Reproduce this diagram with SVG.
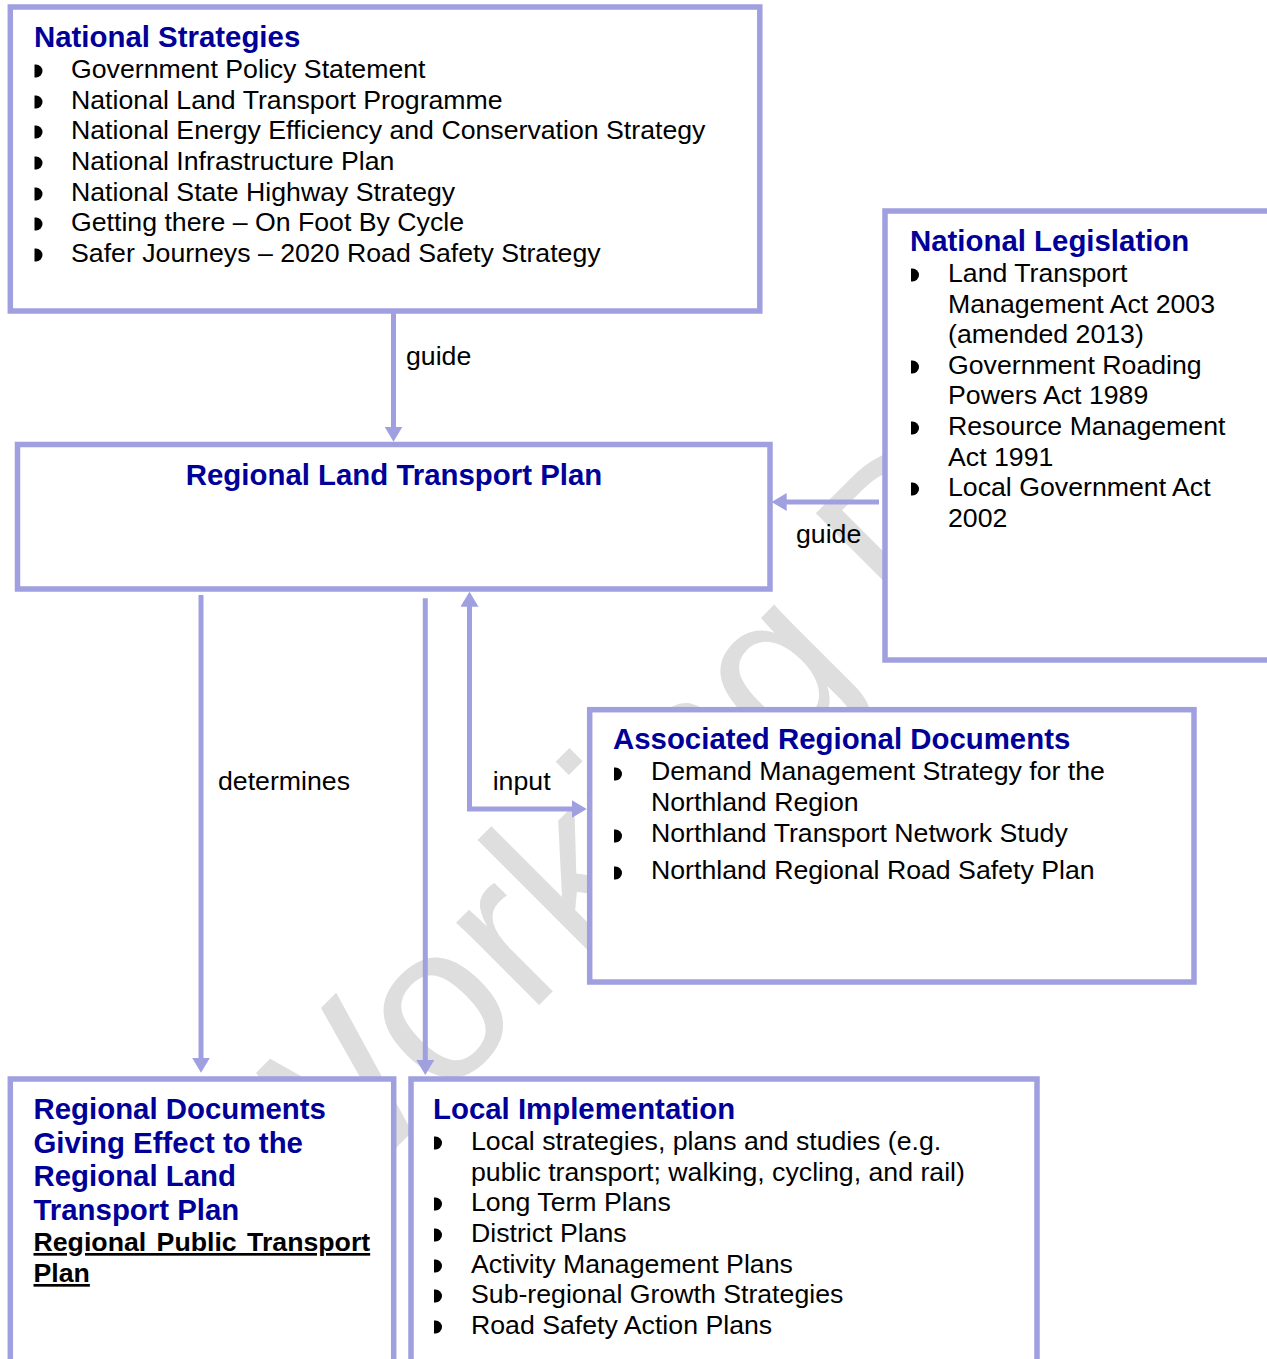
<svg xmlns="http://www.w3.org/2000/svg" xmlns:xlink="http://www.w3.org/1999/xlink" width="1267" height="1359" viewBox="0 0 1267 1359">
<style>
.box{fill:#ffffff;stroke:#a0a0e0;stroke-width:5.5}
.conn{fill:none;stroke:#a0a0e0;stroke-width:5}
.t{font-family:"Liberation Sans",Arial,sans-serif;font-size:26.7px;fill:#000000}
.h{font-family:"Liberation Sans",Arial,sans-serif;font-size:29.4px;font-weight:bold;fill:#000099}
.u{font-family:"Liberation Sans",Arial,sans-serif;font-size:26.7px;font-weight:bold;fill:#000000;text-decoration:underline}
.wm{font-family:"Liberation Sans",Arial,sans-serif;font-size:221px;fill:#dedede}
.b{fill:#000000}
</style>
<defs>
<path id="bul" d="M0,-6.5 L1.5,-6.5 A6.5,6.5 0 0 1 1.5,6.5 L0,6.5 Z"/>
<marker id="arr" viewBox="0 0 15 18" refX="7" refY="9" markerWidth="15" markerHeight="18" markerUnits="userSpaceOnUse" orient="auto-start-reverse">
<path d="M0,0 L15,9 L0,18 Z" fill="#a0a0e0"/>
</marker>
</defs>
<rect width="1267" height="1359" fill="#ffffff"/>
<g id="watermark">
<text class="wm" transform="translate(296.7,1247.3) rotate(-45)">Working Draft</text>
</g>
<g id="national-strategies">
<rect class="box" x="10.3" y="7" width="749.5" height="304"/>
<text class="h" x="34" y="47">National Strategies</text>
<use href="#bul" class="b" x="34.5" y="71"/>
<use href="#bul" class="b" x="34.5" y="102"/>
<use href="#bul" class="b" x="34.5" y="132"/>
<use href="#bul" class="b" x="34.5" y="163"/>
<use href="#bul" class="b" x="34.5" y="194"/>
<use href="#bul" class="b" x="34.5" y="224"/>
<use href="#bul" class="b" x="34.5" y="255"/>
<text class="t" x="71" y="78">Government Policy Statement</text>
<text class="t" x="71" y="109">National Land Transport Programme</text>
<text class="t" x="71" y="139">National Energy Efficiency and Conservation Strategy</text>
<text class="t" x="71" y="170">National Infrastructure Plan</text>
<text class="t" x="71" y="201">National State Highway Strategy</text>
<text class="t" x="71" y="231">Getting there – On Foot By Cycle</text>
<text class="t" x="71" y="262">Safer Journeys – 2020 Road Safety Strategy</text>
</g>
<g id="national-legislation">
<rect class="box" x="885" y="211" width="420" height="449"/>
<text class="h" x="910" y="251">National Legislation</text>
<use href="#bul" class="b" x="911" y="275"/>
<use href="#bul" class="b" x="911" y="367"/>
<use href="#bul" class="b" x="911" y="428"/>
<use href="#bul" class="b" x="911" y="489"/>
<text class="t" x="948" y="282">Land Transport</text>
<text class="t" x="948" y="313">Management Act 2003</text>
<text class="t" x="948" y="343">(amended 2013)</text>
<text class="t" x="948" y="374">Government Roading</text>
<text class="t" x="948" y="404">Powers Act 1989</text>
<text class="t" x="948" y="435">Resource Management</text>
<text class="t" x="948" y="466">Act 1991</text>
<text class="t" x="948" y="496">Local Government Act</text>
<text class="t" x="948" y="527">2002</text>
</g>
<g id="rltp">
<rect class="box" x="17.5" y="444.5" width="752.5" height="144.5"/>
<text class="h" x="394" y="485" text-anchor="middle">Regional Land Transport Plan</text>
</g>
<g id="associated-regional-documents">
<rect class="box" x="589.7" y="709.7" width="604.3" height="272.3"/>
<text class="h" x="613" y="749">Associated Regional Documents</text>
<use href="#bul" class="b" x="614" y="774"/>
<use href="#bul" class="b" x="614" y="836"/>
<use href="#bul" class="b" x="614" y="873"/>
<text class="t" x="651" y="780">Demand Management Strategy for the</text>
<text class="t" x="651" y="811">Northland Region</text>
<text class="t" x="651" y="842">Northland Transport Network Study</text>
<text class="t" x="651" y="879">Northland Regional Road Safety Plan</text>
</g>
<g id="regional-documents">
<rect class="box" x="10.3" y="1079" width="383.4" height="400"/>
<text class="h" x="33.5" y="1119">Regional Documents</text>
<text class="h" x="33.5" y="1153">Giving Effect to the</text>
<text class="h" x="33.5" y="1186">Regional Land</text>
<text class="h" x="33.5" y="1220">Transport Plan</text>
<text class="u" x="33.5" y="1251" word-spacing="3">Regional Public Transport</text>
<text class="u" x="33.5" y="1282">Plan</text>
</g>
<g id="local-implementation">
<rect class="box" x="411" y="1079" width="626" height="400"/>
<text class="h" x="433" y="1119">Local Implementation</text>
<use href="#bul" class="b" x="434" y="1143"/>
<use href="#bul" class="b" x="434" y="1204"/>
<use href="#bul" class="b" x="434" y="1235"/>
<use href="#bul" class="b" x="434" y="1266"/>
<use href="#bul" class="b" x="434" y="1296"/>
<use href="#bul" class="b" x="434" y="1327"/>
<text class="t" x="471" y="1150">Local strategies, plans and studies (e.g.</text>
<text class="t" x="471" y="1181">public transport; walking, cycling, and rail)</text>
<text class="t" x="471" y="1211">Long Term Plans</text>
<text class="t" x="471" y="1242">District Plans</text>
<text class="t" x="471" y="1273">Activity Management Plans</text>
<text class="t" x="471" y="1303">Sub-regional Growth Strategies</text>
<text class="t" x="471" y="1334">Road Safety Action Plans</text>
</g>
<g id="connectors">
<path class="conn" d="M393.5,313 L393.5,433.7" marker-end="url(#arr)"/>
<text class="t" x="406" y="365">guide</text>
<path class="conn" d="M879,502 L779.7,502" marker-end="url(#arr)"/>
<text class="t" x="796" y="543">guide</text>
<path class="conn" d="M201,595 L201,1064.7" marker-end="url(#arr)"/>
<text class="t" x="218" y="790">determines</text>
<path class="conn" d="M425.3,598.3 L425.3,1067" marker-end="url(#arr)"/>
<path class="conn" d="M578.7,809 L469.5,809 L469.5,599.7" marker-start="url(#arr)" marker-end="url(#arr)"/>
<text class="t" x="492.7" y="790">input</text>
</g>
</svg>
